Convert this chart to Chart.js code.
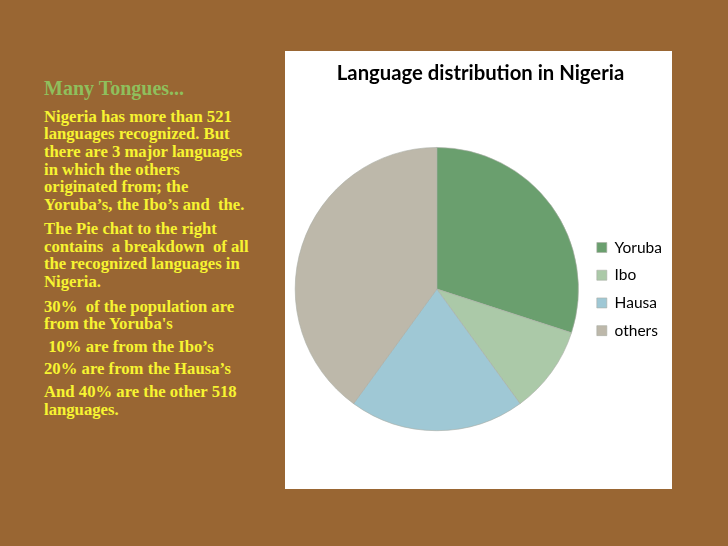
<!DOCTYPE html>
<html>
<head>
<meta charset="utf-8">
<script src="https://cdn.jsdelivr.net/npm/chart.js@4/dist/chart.umd.min.js"></script>
<style>
  html, body { margin:0; padding:0; }
  body { width:728px; height:546px; background:#996633; position:relative; overflow:hidden; }
  .txt { position:absolute; left:44px; font-family:"Liberation Serif","Times New Roman",serif; font-weight:bold; white-space:pre; }
  .head { color:#8fbf5c; font-size:20px; line-height:22px; }
  .body { color:#f7f431; font-size:16.7px; line-height:17.6px; }
  #panel { position:absolute; left:285px; top:51px; width:387px; height:438px; background:#fff; }
</style>
</head>
<body>
<div class="txt head" style="top:77px">Many Tongues...</div>
<div class="txt body" style="top:107.9px">Nigeria has more than 521
languages recognized. But
there are 3 major languages
in which the others
originated from; the
Yoruba’s, the Ibo’s and  the.</div>
<div class="txt body" style="top:220.2px">The Pie chat to the right
contains  a breakdown  of all
the recognized languages in
Nigeria.</div>
<div class="txt body" style="top:297.9px">30%  of the population are
from the Yoruba's</div>
<div class="txt body" style="top:337.9px"> 10% are from the Ibo’s</div>
<div class="txt body" style="top:360.2px">20% are from the Hausa’s</div>
<div class="txt body" style="top:383.2px">And 40% are the other 518
languages.</div>
<div id="panel"><canvas id="c" width="387" height="438"></canvas></div>
<script>
const categories = ["Yoruba", "Ibo", "Hausa", "others"];
const shares = [30, 10, 20, 40];
const sliceColors = ["#6a9f6e", "#abc9a8", "#9fc8d5", "#bdb8aa"];
const chartTitle = "Language distribution in Nigeria";

new Chart(document.getElementById("c"), {
  type: "pie",
  data: {
    labels: categories,
    datasets: [{
      data: shares,
      backgroundColor: sliceColors,
      borderColor: "#a9aca4",
      borderWidth: 0.6
    }]
  },
  options: {
    responsive: false,
    animation: false,
    layout: { padding: { left: 4, right: 0, top: 0, bottom: 58 } },
    plugins: {
      title: {
        display: true,
        text: chartTitle,
        color: "#000",
        font: { family: "Lato", size: 20.3, weight: "bold" },
        padding: { top: 9.8, bottom: 62 }
      },
      legend: {
        position: "right",
        align: "center",
        fullSize: false,
        labels: {
          boxWidth: 10,
          boxHeight: 10,
          padding: 12.2,
          color: "#000",
          font: { family: "Lato", size: 15.5 }
        }
      },
      tooltip: { enabled: false }
    }
  }
});
</script>
</body>
</html>
